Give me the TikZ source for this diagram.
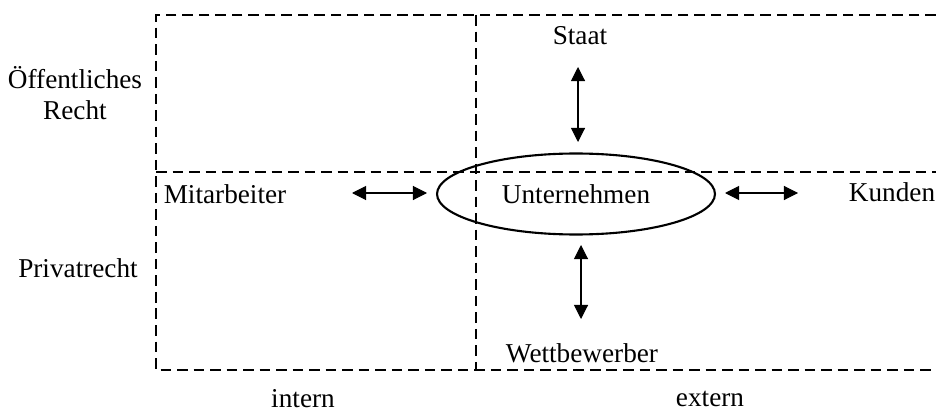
\documentclass[tikz,border=0pt]{standalone}
\usepackage{fontspec}
\setmainfont{Liberation Serif}
\usepackage{tikz}
\usetikzlibrary{shapes.geometric, arrows.meta}

\begin{document}
\begin{tikzpicture}[x=0.02cm, y=-0.02cm,
        nodes={font=\fontsize{15.5}{17.5}\selectfont, inner sep=0},
        grid/.style={line width=1.4pt, dash pattern=on 6pt off 3.4pt},
        link/.style={{Triangle[length=8pt, width=8pt]}-{Triangle[length=8pt, width=8pt]}, line width=0.6pt}]
        \useasboundingbox (0,0) rectangle (936,412);

        % Felder
        \draw [grid] (936,15) -- (156,15) -- (156,370) -- (936,370);
        \draw [grid] (156,172) -- (936,172);
        \draw [grid] (476,15) -- (476,370);

        \node (firm) [draw, ellipse, line width=1.2pt, minimum width=5.56cm, minimum height=1.62cm] at (576,194) {Unternehmen};
        \node (staat) at (580,36) {Staat};
        \node (kunden) at (892,192) {Kunden};
        \node (mitarb) at (225,194) {Mitarbeiter};
        \node (wettb) at (582,353) {Wettbewerber};

        \node (oeff) [align=center] at (75,93) {Öffentliches\\Recht};
        \node (priv) at (78,268) {Privatrecht};
        \node (intern) at (303,399) {intern};
        \node (extern) at (710,399) {extern};

        \coordinate (s1) at (578,67);
        \coordinate (s2) at (578,142);
        \coordinate (w1) at (581,245);
        \coordinate (w2) at (581,319);
        \coordinate (m1) at (352,193);
        \coordinate (m2) at (427,193);
        \coordinate (k1) at (725,193);
        \coordinate (k2) at (798,193);
        \draw [link] (s1) -- (s2);
        \draw [link] (w1) -- (w2);
        \draw [link] (m1) -- (m2);
        \draw [link] (k1) -- (k2);
    \end{tikzpicture}
\end{document}
